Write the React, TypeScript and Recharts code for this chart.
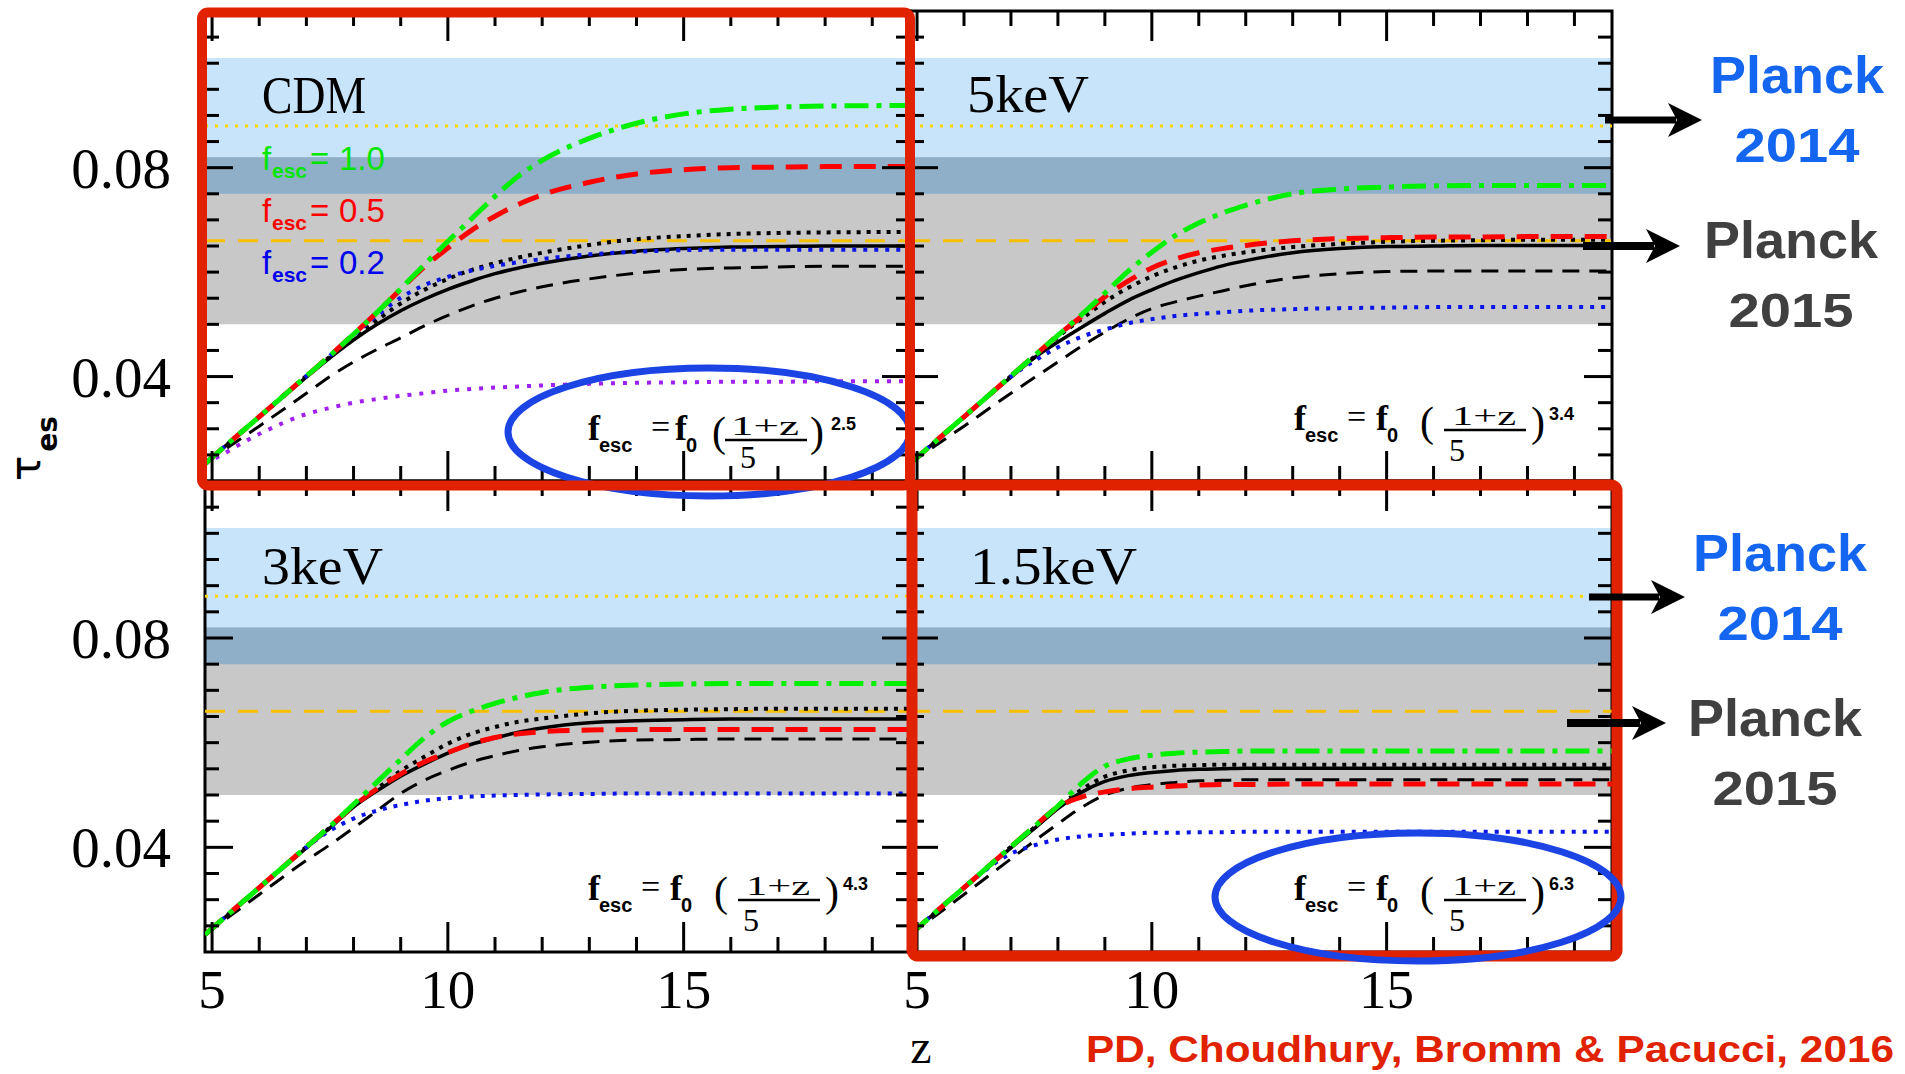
import React from "react";
import { LineChart, Line, XAxis, YAxis, ReferenceArea, ReferenceLine } from "recharts";

// Redshift grid shared by all models
const Z = [4.85, 5, 6, 7, 7.5, 8, 8.5, 9, 9.5, 10, 10.5, 11, 11.5, 12, 13, 14, 15, 16, 17, 18, 19.8];

const Z_DOMAIN: [number, number] = [4.85, 19.8];
const TAU_DOMAIN: [number, number] = [0.02, 0.11];
const Z_TICKS = [5, 6, 7, 8, 9, 10, 11, 12, 13, 14, 15, 16, 17, 18, 19];
const Z_MAJOR = [5, 10, 15];
const TAU_TICKS = [0.025, 0.03, 0.035, 0.04, 0.045, 0.05, 0.055, 0.06, 0.065, 0.07, 0.075, 0.08, 0.085, 0.09, 0.095, 0.1, 0.105];
const TAU_MAJOR = [0.04, 0.08];

// Planck constraints on tau: [low, mean, high]
const PLANCK_2014 = [0.075, 0.088, 0.101];
const PLANCK_2015 = [0.05, 0.066, 0.082];

// CDM
const cdmGreen = [0.0233, 0.0245, 0.0323, 0.0401, 0.044, 0.0481, 0.0523, 0.0568, 0.0614, 0.0659, 0.0702, 0.0745, 0.0784, 0.0814, 0.0856, 0.0885, 0.0903, 0.0912, 0.0916, 0.0918, 0.0919];
const cdmRed = [0.0233, 0.0245, 0.0323, 0.0401, 0.044, 0.0481, 0.0523, 0.0567, 0.061, 0.0646, 0.068, 0.0707, 0.073, 0.0748, 0.0772, 0.0788, 0.0796, 0.08, 0.0801, 0.0802, 0.0802];
const cdmDotted = [0.0233, 0.0245, 0.0323, 0.0401, 0.0438, 0.0474, 0.0508, 0.054, 0.0566, 0.0587, 0.0604, 0.0617, 0.0628, 0.0637, 0.0652, 0.0663, 0.0669, 0.0673, 0.0675, 0.0676, 0.0677];
const cdmBlue = [0.0233, 0.0245, 0.0323, 0.0401, 0.044, 0.0479, 0.0517, 0.0551, 0.0575, 0.0591, 0.0603, 0.0612, 0.0619, 0.0625, 0.0634, 0.0639, 0.0642, 0.0643, 0.0643, 0.0643, 0.0643];
const cdmSolid = [0.0233, 0.0245, 0.0322, 0.0399, 0.0436, 0.047, 0.05, 0.0526, 0.0548, 0.0567, 0.0583, 0.0597, 0.0608, 0.0617, 0.0631, 0.064, 0.0645, 0.0648, 0.0649, 0.065, 0.065];
const cdmDashed = [0.0233, 0.0243, 0.0305, 0.0368, 0.04, 0.0428, 0.0452, 0.0474, 0.0497, 0.0517, 0.0535, 0.055, 0.0562, 0.0572, 0.0587, 0.0598, 0.0605, 0.0608, 0.061, 0.0611, 0.0611];
const cdmPurple = [0.0233, 0.024, 0.029, 0.0328, 0.034, 0.035, 0.0357, 0.0363, 0.0368, 0.0373, 0.0376, 0.0379, 0.0381, 0.0383, 0.0386, 0.0388, 0.0389, 0.039, 0.039, 0.0391, 0.0391];

// 5 keV WDM
const k5Green = [0.0233, 0.0245, 0.0323, 0.0401, 0.044, 0.0479, 0.0518, 0.056, 0.0602, 0.0638, 0.067, 0.0694, 0.0713, 0.0728, 0.075, 0.0759, 0.0763, 0.0765, 0.0766, 0.0766, 0.0766];
const k5Red = [0.0233, 0.0245, 0.0323, 0.0401, 0.044, 0.0479, 0.0515, 0.0553, 0.0583, 0.0608, 0.0625, 0.0637, 0.0645, 0.0651, 0.066, 0.0664, 0.0666, 0.0667, 0.0667, 0.0668, 0.0668];
const k5Dotted = [0.0233, 0.0245, 0.0323, 0.0401, 0.0438, 0.0476, 0.051, 0.0543, 0.057, 0.0592, 0.0609, 0.0622, 0.0631, 0.0638, 0.0648, 0.0654, 0.0658, 0.066, 0.0661, 0.0662, 0.0662];
const k5Solid = [0.0233, 0.0245, 0.0322, 0.0399, 0.0436, 0.0466, 0.0494, 0.0521, 0.0546, 0.0566, 0.0584, 0.0599, 0.0612, 0.0622, 0.0637, 0.0645, 0.0649, 0.065, 0.0651, 0.0651, 0.0651];
const k5Dashed = [0.0233, 0.0243, 0.0305, 0.0368, 0.0398, 0.0428, 0.0458, 0.0485, 0.051, 0.053, 0.0543, 0.0554, 0.0564, 0.0574, 0.0589, 0.0597, 0.0601, 0.0602, 0.0602, 0.0602, 0.0602];
const k5Blue = [0.0233, 0.0245, 0.0323, 0.04, 0.043, 0.0456, 0.0476, 0.049, 0.0502, 0.051, 0.0516, 0.052, 0.0523, 0.0526, 0.0529, 0.0531, 0.0532, 0.0533, 0.0533, 0.0533, 0.0533];

// 3 keV WDM
const k3Green = [0.0233, 0.0245, 0.0323, 0.0401, 0.044, 0.0482, 0.0525, 0.0568, 0.0609, 0.064, 0.066, 0.0675, 0.0687, 0.0696, 0.0706, 0.071, 0.0712, 0.0713, 0.0713, 0.0713, 0.0713];
const k3Red = [0.0233, 0.0245, 0.0323, 0.0401, 0.044, 0.0479, 0.0512, 0.054, 0.0563, 0.0581, 0.0598, 0.061, 0.0617, 0.0621, 0.0624, 0.0625, 0.0625, 0.0625, 0.0625, 0.0625, 0.0625];
const k3Dotted = [0.0233, 0.0245, 0.0323, 0.0401, 0.0438, 0.0478, 0.0512, 0.0546, 0.0573, 0.0598, 0.0617, 0.063, 0.064, 0.0646, 0.0656, 0.0661, 0.0663, 0.0664, 0.0665, 0.0665, 0.0665];
const k3Solid = [0.0233, 0.0245, 0.0322, 0.0399, 0.0437, 0.0477, 0.0508, 0.0536, 0.0559, 0.058, 0.0597, 0.0609, 0.062, 0.0628, 0.0638, 0.0642, 0.0644, 0.0645, 0.0645, 0.0645, 0.0645];
const k3Dashed = [0.0233, 0.0243, 0.031, 0.0375, 0.0405, 0.0437, 0.047, 0.0503, 0.0528, 0.0547, 0.0563, 0.0575, 0.0585, 0.0592, 0.0601, 0.0605, 0.0606, 0.0607, 0.0607, 0.0607, 0.0607];
const k3Blue = [0.0233, 0.0245, 0.0323, 0.04, 0.0432, 0.0455, 0.047, 0.0481, 0.0489, 0.0494, 0.0497, 0.0499, 0.05, 0.0501, 0.0502, 0.0503, 0.0503, 0.0503, 0.0503, 0.0503, 0.0503];

// 1.5 keV WDM
const k15Green = [0.0233, 0.0245, 0.0323, 0.0401, 0.044, 0.0479, 0.0522, 0.0555, 0.0569, 0.0576, 0.058, 0.0582, 0.0583, 0.0584, 0.0584, 0.0584, 0.0584, 0.0584, 0.0584, 0.0584, 0.0584];
const k15Red = [0.0233, 0.0245, 0.0323, 0.0401, 0.044, 0.0477, 0.0496, 0.0506, 0.0512, 0.0515, 0.0517, 0.0519, 0.052, 0.052, 0.0521, 0.0521, 0.0521, 0.0521, 0.0521, 0.0521, 0.0521];
const k15Dotted = [0.0233, 0.0245, 0.0323, 0.0401, 0.0438, 0.0476, 0.051, 0.0535, 0.0547, 0.0553, 0.0556, 0.0557, 0.0558, 0.0558, 0.0558, 0.0558, 0.0558, 0.0558, 0.0558, 0.0558, 0.0558];
const k15Solid = [0.0233, 0.0245, 0.0322, 0.0399, 0.0436, 0.0474, 0.0505, 0.0526, 0.0537, 0.0543, 0.0547, 0.0549, 0.055, 0.0551, 0.0551, 0.0551, 0.0551, 0.0551, 0.0551, 0.0551, 0.0551];
const k15Dashed = [0.0233, 0.0243, 0.031, 0.0378, 0.0412, 0.0445, 0.0476, 0.05, 0.0513, 0.052, 0.0524, 0.0527, 0.0528, 0.0529, 0.0529, 0.0529, 0.0529, 0.0529, 0.0529, 0.0529, 0.0529];
const k15Blue = [0.0233, 0.0245, 0.0323, 0.0388, 0.0404, 0.0415, 0.0421, 0.0424, 0.0426, 0.0428, 0.0428, 0.0429, 0.0429, 0.043, 0.043, 0.043, 0.043, 0.043, 0.043, 0.043, 0.043];

type Series = Record<string, number[]>;

function toRows(series: Series) {
  return Z.map((z, i) => {
    const r: Record<string, number> = { z };
    Object.keys(series).forEach((k) => {
      r[k] = series[k][i];
    });
    return r;
  });
}

const LINE_STYLE: Record<string, { stroke: string; strokeWidth: number; strokeDasharray?: string }> = {
  dashed: { stroke: "#000", strokeWidth: 3, strokeDasharray: "17 10" },
  solid: { stroke: "#000", strokeWidth: 3.5 },
  dotted: { stroke: "#000", strokeWidth: 4, strokeDasharray: "4 6" },
  blue: { stroke: "#0a14e6", strokeWidth: 4, strokeDasharray: "4 7" },
  purple: { stroke: "#a020f0", strokeWidth: 4, strokeDasharray: "4 8" },
  red: { stroke: "#ff0000", strokeWidth: 5, strokeDasharray: "22 12" },
  green: { stroke: "#00f000", strokeWidth: 5, strokeDasharray: "24 8 5 8" },
};
const DRAW_ORDER = ["dashed", "solid", "dotted", "blue", "purple", "red", "green"];

const SERIF = "'Liberation Serif', 'Times New Roman', serif";
const SANS = "'Liberation Sans', Arial, sans-serif";

function XTick(props: any) {
  const { x, y, payload, plotH, showLabel } = props;
  const v = payload.value;
  const major = Z_MAJOR.includes(v);
  const len = major ? 30 : 15;
  return (
    <g>
      <line x1={x} x2={x} y1={y} y2={y - len} stroke="#000" strokeWidth={3} />
      <line x1={x} x2={x} y1={y - plotH} y2={y - plotH + len} stroke="#000" strokeWidth={3} />
      {showLabel && major ? (
        <text x={x} y={y + 56} textAnchor="middle" fontFamily={SERIF} fontSize={55} fill="#000">
          {v}
        </text>
      ) : null}
    </g>
  );
}

function YTick(props: any) {
  const { x, y, payload, plotW, showLabel } = props;
  const v = payload.value;
  const major = TAU_MAJOR.includes(v);
  const len = major ? 28 : 14;
  return (
    <g>
      <line x1={x} x2={x + len} y1={y} y2={y} stroke="#000" strokeWidth={3} />
      <line x1={x + plotW} x2={x + plotW - len} y1={y} y2={y} stroke="#000" strokeWidth={3} />
      {showLabel && major ? (
        <text x={x - 84} y={y + 20} textAnchor="middle" fontFamily={SERIF} fontSize={57} fill="#000">
          {String(v)}
        </text>
      ) : null}
    </g>
  );
}

type PanelProps = {
  left: number;
  top: number;
  width: number;
  height: number;
  series: Series;
  leftLabels: boolean;
  bottomLabels: boolean;
};

const M = 160;

function Panel({ left, top, width, height, series, leftLabels, bottomLabels }: PanelProps) {
  const data = toRows(series);
  const keys = DRAW_ORDER.filter((k) => series[k]);
  return (
    <div style={{ position: "absolute", left: left - M, top: top - M }}>
      <LineChart
        width={width + 2 * M}
        height={height + 2 * M}
        data={data}
        margin={{ top: M, right: M, bottom: M - 1, left: M - 1 }}
      >
        <XAxis
          dataKey="z"
          type="number"
          domain={Z_DOMAIN}
          allowDataOverflow
          ticks={Z_TICKS}
          interval={0}
          height={1}
          tickSize={0}
          tickMargin={0}
          axisLine={false}
          tickLine={false}
          tick={(p: any) => <XTick {...p} plotH={height} showLabel={bottomLabels} />}
        />
        <YAxis
          type="number"
          domain={TAU_DOMAIN}
          allowDataOverflow
          ticks={TAU_TICKS}
          interval={0}
          width={1}
          tickSize={0}
          tickMargin={0}
          axisLine={false}
          tickLine={false}
          tick={(p: any) => <YTick {...p} plotW={width} showLabel={leftLabels} />}
        />
        <ReferenceArea y1={PLANCK_2014[0]} y2={PLANCK_2014[2]} fill="#c8e4fa" fillOpacity={1} stroke="none" />
        <ReferenceArea y1={PLANCK_2015[0]} y2={PLANCK_2015[2]} fill="#c8c8c8" fillOpacity={1} stroke="none" />
        <ReferenceArea y1={PLANCK_2014[0]} y2={PLANCK_2015[2]} fill="#8fafc8" fillOpacity={1} stroke="none" />
        <ReferenceLine y={PLANCK_2014[1]} stroke="#ffd400" strokeWidth={3} strokeDasharray="3 7" />
        <ReferenceLine y={PLANCK_2015[1]} stroke="#f5c000" strokeWidth={3} strokeDasharray="20 13" />
        {keys.map((k) => (
          <Line
            key={k}
            type="monotone"
            dataKey={k}
            stroke={LINE_STYLE[k].stroke}
            strokeWidth={LINE_STYLE[k].strokeWidth}
            strokeDasharray={LINE_STYLE[k].strokeDasharray}
            dot={false}
            activeDot={false}
            isAnimationActive={false}
          />
        ))}
        <ReferenceArea x1={Z_DOMAIN[0]} x2={Z_DOMAIN[1]} y1={TAU_DOMAIN[0]} y2={TAU_DOMAIN[1]} fill="none" stroke="#000" strokeWidth={3} />
      </LineChart>
    </div>
  );
}

function Formula({ x, y, exp, compact }: { x: number; y: number; exp: string; compact?: boolean }) {
  const o = compact
    ? { eq: 63, f0: 87, lp: 124, fc: 177, fl: 68, b1: 137, b2: 219, den: 160, dd: 28, rp: 222, ex: 243 }
    : { eq: 53, f0: 82, lp: 126, fc: 190, fl: 64, b1: 150, b2: 232, den: 163, dd: 31, rp: 237, ex: 255 };
  return (
    <g fill="#000">
      <text x={x} y={y} fontFamily={SERIF} fontWeight="bold" fontSize={36}>f</text>
      <text x={x + 11} y={y + 12} fontFamily={SANS} fontWeight="bold" fontSize={20}>esc</text>
      <text x={x + o.eq} y={y - 2} fontFamily={SERIF} fontSize={34}>=</text>
      <text x={x + o.f0} y={y} fontFamily={SERIF} fontWeight="bold" fontSize={36}>f</text>
      <text x={x + o.f0 + 11} y={y + 12} fontFamily={SANS} fontWeight="bold" fontSize={20}>0</text>
      <text x={x + o.lp} y={y + 6} fontFamily={SERIF} fontSize={42}>(</text>
      <text x={x + o.fc} y={y - 5} textAnchor="middle" fontFamily={SERIF} fontSize={28} textLength={o.fl} lengthAdjust="spacingAndGlyphs">1+z</text>
      <line x1={x + o.b1} x2={x + o.b2} y1={y} y2={y} stroke="#000" strokeWidth={2.5} />
      <text x={x + o.den} y={y + o.dd} textAnchor="middle" fontFamily={SERIF} fontSize={32}>5</text>
      <text x={x + o.rp} y={y + 6} fontFamily={SERIF} fontSize={42}>)</text>
      <text x={x + o.ex} y={y - 10} fontFamily={SANS} fontWeight="bold" fontSize={18}>{exp}</text>
    </g>
  );
}

function FescLabel({ x, y, color, value }: { x: number; y: number; color: string; value: string }) {
  return (
    <g fill={color}>
      <text x={x} y={y} fontFamily={SANS} fontSize={33}>f</text>
      <text x={x + 10} y={y + 8} fontFamily={SANS} fontWeight="bold" fontSize={21}>esc</text>
      <text x={x + 48} y={y} fontFamily={SANS} fontSize={33}>=</text>
      <text x={x + 77} y={y} fontFamily={SANS} fontSize={33}>{value}</text>
    </g>
  );
}

function Arrow({ x1, tip, y, t }: { x1: number; tip: number; y: number; t: number }) {
  const hl = 34;
  const hh = 17;
  return (
    <g fill="#000">
      <rect x={x1} y={y - t / 2} width={tip - hl + 8 - x1} height={t} />
      <path d={`M${tip - hl},${y - hh} L${tip},${y} L${tip - hl},${y + hh} L${tip - hl + 9},${y} Z`} />
    </g>
  );
}

function PlanckLabel({ cx, y, year, color }: { cx: number; y: number; year: string; color: string }) {
  return (
    <g fill={color} fontFamily={SANS} fontWeight="bold">
      <text x={cx} y={y} textAnchor="middle" fontSize={52} textLength={174} lengthAdjust="spacingAndGlyphs">Planck</text>
      <text x={cx} y={y + 69} textAnchor="middle" fontSize={48} textLength={125} lengthAdjust="spacingAndGlyphs">{year}</text>
    </g>
  );
}

function PanelName({ x, y, text, w }: { x: number; y: number; text: string; w: number }) {
  return (
    <text x={x} y={y} fontFamily={SERIF} fontSize={53} fill="#000" textLength={w} lengthAdjust="spacingAndGlyphs">
      {text}
    </text>
  );
}

const PANELS: PanelProps[] = [
  { left: 205, top: 11, width: 705, height: 470, leftLabels: true, bottomLabels: false,
    series: { green: cdmGreen, red: cdmRed, dotted: cdmDotted, blue: cdmBlue, solid: cdmSolid, dashed: cdmDashed, purple: cdmPurple } },
  { left: 910, top: 11, width: 702, height: 470, leftLabels: false, bottomLabels: false,
    series: { green: k5Green, red: k5Red, dotted: k5Dotted, blue: k5Blue, solid: k5Solid, dashed: k5Dashed } },
  { left: 205, top: 481, width: 705, height: 471, leftLabels: true, bottomLabels: true,
    series: { green: k3Green, red: k3Red, dotted: k3Dotted, blue: k3Blue, solid: k3Solid, dashed: k3Dashed } },
  { left: 910, top: 481, width: 702, height: 471, leftLabels: false, bottomLabels: true,
    series: { green: k15Green, red: k15Red, dotted: k15Dotted, blue: k15Blue, solid: k15Solid, dashed: k15Dashed } },
];

const RED = "#e02200";
const ELLIPSE = "#1c44e4";

export default function App() {
  return (
    <div style={{ position: "absolute", left: 0, top: 0, width: 1905, height: 1074, background: "#fff", overflow: "hidden" }}>
      {PANELS.map((p, i) => (
        <Panel key={i} {...p} />
      ))}
      <svg width={1905} height={1074} style={{ position: "absolute", left: 0, top: 0, pointerEvents: "none" }}>
        {/* panel names */}
        <PanelName x={262} y={113} text="CDM" w={104} />
        <PanelName x={967} y={112} text="5keV" w={122} />
        <PanelName x={262} y={584} text="3keV" w={121} />
        <PanelName x={970} y={584} text="1.5keV" w={167} />

        <FescLabel x={262} y={170} color="#00e600" value="1.0" />
        <FescLabel x={262} y={222} color="#ff0000" value="0.5" />
        <FescLabel x={262} y={274} color="#0000ee" value="0.2" />

        <Formula x={588} y={440} exp="2.5" compact />
        <Formula x={1294} y={430} exp="3.4" />
        <Formula x={588} y={900} exp="4.3" />
        <Formula x={1294} y={900} exp="6.3" />

        {/* highlight frames */}
        <rect x={912} y={485} width={705} height={471} rx={6} fill="none" stroke={RED} strokeWidth={11} />
        <ellipse cx={1418} cy={897} rx={203} ry={64} fill="none" stroke={ELLIPSE} strokeWidth={7} />
        <ellipse cx={709} cy={432} rx={201} ry={64} fill="none" stroke={ELLIPSE} strokeWidth={7} />
        <rect x={202} y={12.5} width={708} height={473} rx={6} fill="none" stroke={RED} strokeWidth={10} />

        {/* Planck markers */}
        <Arrow x1={1605} tip={1702} y={120} t={7} />
        <Arrow x1={1583} tip={1680} y={246} t={8} />
        <Arrow x1={1589} tip={1685} y={597} t={7} />
        <Arrow x1={1567} tip={1666} y={723} t={8} />
        <PlanckLabel cx={1797} y={93} year="2014" color="#1466f0" />
        <PlanckLabel cx={1791} y={258} year="2015" color="#404040" />
        <PlanckLabel cx={1780} y={571} year="2014" color="#1466f0" />
        <PlanckLabel cx={1775} y={736} year="2015" color="#404040" />

        {/* axis titles */}
        <text transform="translate(40,481) rotate(-90)" fontFamily="'DejaVu Sans', sans-serif" fill="#000">
          <tspan fontSize={42}>τ</tspan>
          <tspan fontSize={28} fontWeight="bold" dx={4} dy={17}>es</tspan>
        </text>
        <text x={921} y={1063} textAnchor="middle" fontFamily={SERIF} fontSize={48} fill="#000">z</text>

        <text x={1894} y={1062} textAnchor="end" fontFamily={SANS} fontWeight="bold" fontSize={37} fill={RED} textLength={808} lengthAdjust="spacingAndGlyphs">
          PD, Choudhury, Bromm &amp; Pacucci, 2016
        </text>
      </svg>
    </div>
  );
}
